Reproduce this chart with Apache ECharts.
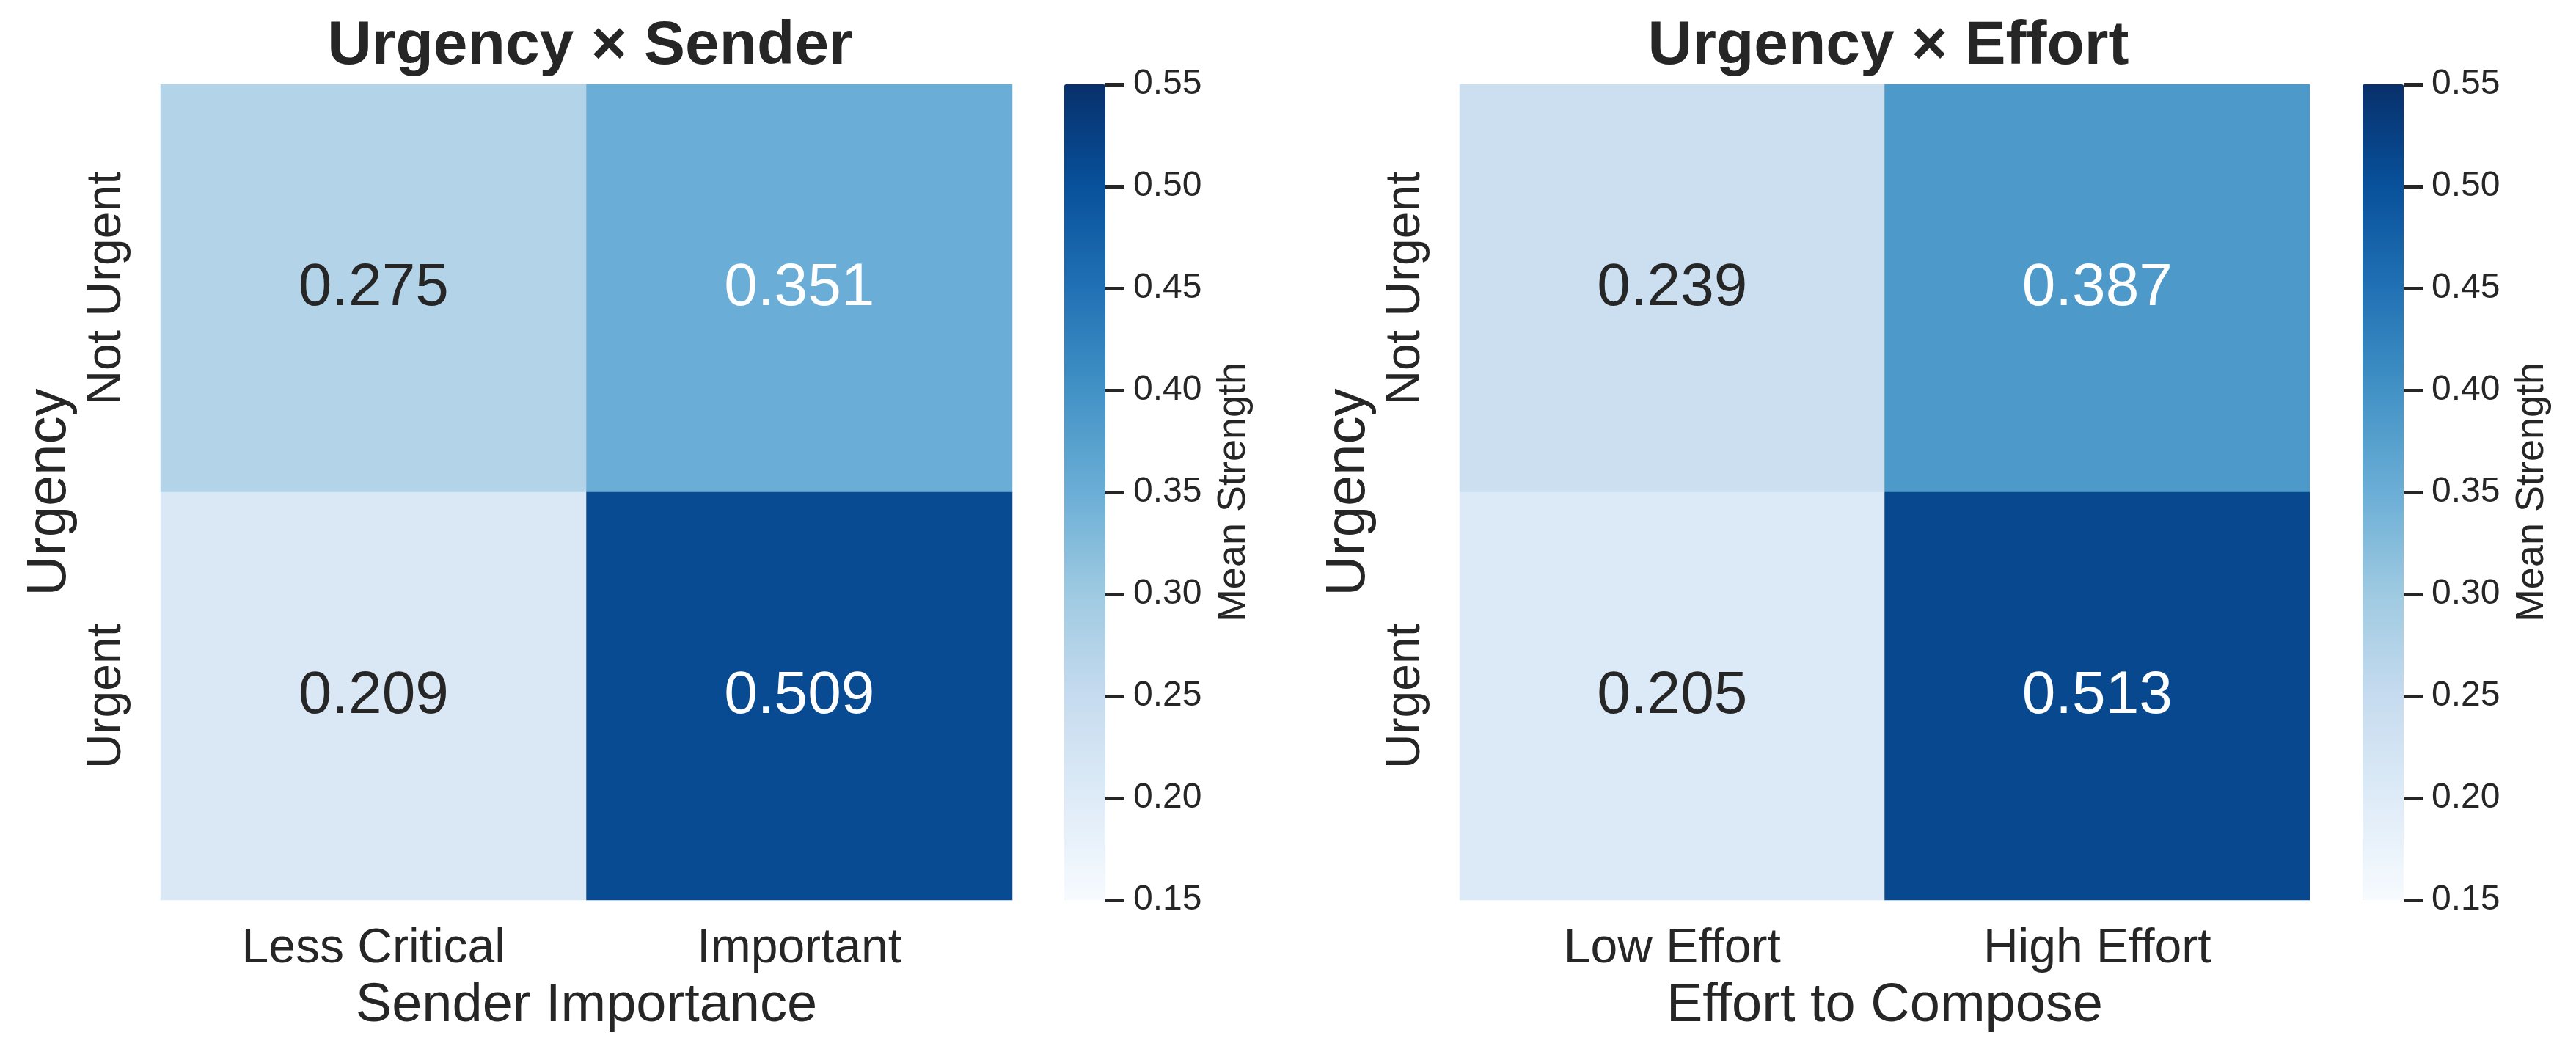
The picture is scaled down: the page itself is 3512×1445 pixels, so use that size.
<!DOCTYPE html>
<html>
<head>
<meta charset="utf-8">
<script src="https://cdn.jsdelivr.net/npm/echarts@6/dist/echarts.min.js"></script>
<style>
  html, body { margin: 0; padding: 0; background: #fff; }
  #main { width: 3512px; height: 1445px; }
</style>
</head>
<body>
<div id="main"></div>
<script>
// data
var urgency = ['Not Urgent', 'Urgent'];
var senderCats = ['Less Critical', 'Important'];
var effortCats = ['Low Effort', 'High Effort'];
// rows follow urgency order, columns follow the x categories
var senderVals = [[0.275, 0.351], [0.209, 0.509]];
var effortVals = [[0.239, 0.387], [0.205, 0.513]];
var cbTicks = [0.15, 0.20, 0.25, 0.30, 0.35, 0.40, 0.45, 0.50, 0.55];

var blues = ['#f7fbff', '#deebf7', '#c6dbef', '#9ecae1', '#6baed6', '#4292c6', '#2171b5', '#08519c', '#08306b'];
var font = 'Liberation Sans, Arial, sans-serif';
var ink = '#262626';

function cells(vals) {
    var out = [];
    vals.forEach(function (row, r) {
        row.forEach(function (v, c) {
            out.push({
                value: [c, r, v],
                label: { color: v > 0.33 ? '#ffffff' : ink }
            });
        });
    });
    return out;
}

var chart = echarts.init(document.getElementById('main'));

var panels = [
    { left: 219, width: 1161, cbLeft: 1451, title: 'Urgency × Sender', xName: 'Sender Importance', cats: senderCats, vals: senderVals },
    { left: 1990, width: 1159, cbLeft: 3221, title: 'Urgency × Effort', xName: 'Effort to Compose', cats: effortCats, vals: effortVals }
];
var gridTop = 115, gridH = 1112;
var cbW = 56, tickLen = 26;

var option = {
    backgroundColor: '#fff',
    textStyle: { fontFamily: font },
    title: [],
    grid: [],
    xAxis: [],
    yAxis: [],
    visualMap: [],
    series: []
};

panels.forEach(function (p, i) {
    option.title.push({
        text: p.title,
        left: p.left + p.width / 2,
        top: 17,
        textAlign: 'center',
        textStyle: { fontFamily: font, fontSize: 84, fontWeight: 'bold', color: ink }
    });
    // heatmap grid
    option.grid.push({ left: p.left, top: gridTop, width: p.width, height: gridH });
    // narrow strip right of the colour bar: its split lines are the ticks
    option.grid.push({ left: p.cbLeft + cbW, top: gridTop, width: tickLen, height: gridH });

    option.xAxis.push({
        type: 'category', gridIndex: i * 2, data: p.cats,
        axisLine: { show: false }, axisTick: { show: false },
        axisLabel: { fontFamily: font, fontSize: 66, color: ink, margin: 34 },
        name: p.xName, nameLocation: 'middle', nameGap: 108,
        nameTextStyle: { fontFamily: font, fontSize: 74, color: ink, verticalAlign: 'top' }
    });
    option.xAxis.push({ type: 'value', gridIndex: i * 2 + 1, min: 0, max: 1, show: false });

    option.yAxis.push({
        type: 'category', gridIndex: i * 2, data: urgency, inverse: true,
        axisLine: { show: false }, axisTick: { show: false },
        axisLabel: { fontFamily: font, fontSize: 66, color: ink, rotate: 90, margin: 40 },
        name: 'Urgency', nameLocation: 'middle', nameGap: 113, nameRotate: 90,
        nameTextStyle: { fontFamily: font, fontSize: 76, color: ink }
    });
    option.yAxis.push({
        type: 'value', gridIndex: i * 2 + 1, position: 'right',
        min: cbTicks[0], max: cbTicks[cbTicks.length - 1], interval: 0.05,
        axisLine: { show: false },
        axisTick: { show: false },
        splitLine: { show: true, lineStyle: { color: ink, width: 5 } },
        axisLabel: {
            fontFamily: font, fontSize: 48, color: ink, margin: 12,
            formatter: function (v) { return v.toFixed(2); }
        },
        name: 'Mean Strength', nameLocation: 'middle', nameGap: 122, nameRotate: 90,
        nameTextStyle: { fontFamily: font, fontSize: 54, color: ink }
    });

    option.visualMap.push({
        type: 'continuous',
        seriesIndex: i,
        min: cbTicks[0], max: cbTicks[cbTicks.length - 1],
        calculable: false,
        hoverLink: false,
        orient: 'vertical',
        left: p.cbLeft, top: gridTop,
        padding: 0,
        itemWidth: cbW, itemHeight: gridH,
        inRange: { color: blues }
    });

    option.series.push({
        type: 'heatmap',
        xAxisIndex: i * 2, yAxisIndex: i * 2,
        data: cells(p.vals),
        label: {
            show: true, fontFamily: font, fontSize: 82,
            formatter: function (d) { return d.value[2].toFixed(3); }
        },
        itemStyle: { borderWidth: 0 },
        emphasis: { disabled: true }
    });
});

chart.setOption(option);
</script>
</body>
</html>
